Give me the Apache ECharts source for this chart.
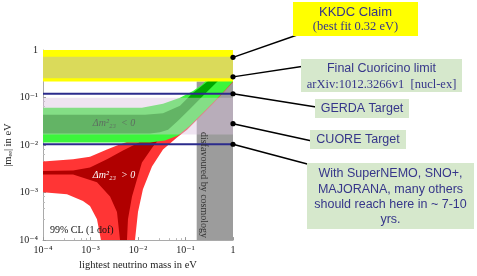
<!DOCTYPE html>
<html><head><meta charset="utf-8">
<script src="https://cdn.jsdelivr.net/npm/echarts@6/dist/echarts.min.js"></script>
<style>html,body{margin:0;padding:0;background:#fff}#c{width:477px;height:276px}</style>
</head><body><div id="c"></div>
<script>
// ---------- data ----------
const tickValues = [1e-4, 1e-3, 1e-2, 1e-1, 1];
const tickLabels = ['10\u207B\u2074', '10\u207B\u00B3', '10\u207B\u00B2', '10\u207B\u00B9', '1'];

// inverted hierarchy (Δm²23 < 0), 99% CL outer band: upper edge then lower edge
const ihOuterUpper = [[1e-4,0.061],[0.0121,0.061],[0.0336,0.074],[0.0766,0.099],[0.144,0.138],[0.222,0.185],[0.258,0.217],[0.3,0.24],[1,0.24]];
const ihOuterLower = [[1,0.217],[0.532,0.109],[0.258,0.0528],[0.124,0.0256],[0.0695,0.0158],[0.037,0.0124],[0.0179,0.0113],[1e-4,0.0113]];
// inverted hierarchy, best-fit band
const ihBestUpper = [[1e-4,0.0435],[0.014,0.0435],[0.0336,0.0467],[0.0766,0.0672],[0.137,0.12],[0.298,0.224],[0.35,0.24],[0.6,0.24]];
const ihBestLower = [[0.483,0.224],[0.258,0.12],[0.124,0.0574],[0.0695,0.0326],[0.043,0.0211],[0.029,0.0186],[0.0179,0.0174],[1e-4,0.0174]];
// normal hierarchy (Δm²23 > 0), outer band
const nhOuterUpper = [[1e-4,0.0045],[4.3e-4,0.005],[9.75e-4,0.0057],[2.22e-3,0.0081],[3.61e-3,0.0098],[7.85e-3,0.013],[0.0207,0.02],[0.0766,0.06],[0.2,0.15],[0.35,0.24],[1,0.24]];
const nhOuterLower = [[1,0.21],[0.379,0.074],[0.175,0.0342],[0.108,0.0211],[0.0662,0.0144],[0.0336,0.0081],[0.0197,0.00355],[0.0127,0.00117],[0.01,0.00039],[0.00865,1e-4],[0.00166,1e-4],[0.00137,0.000275],[9.75e-4,0.00052],[6.95e-4,0.000665],[3.2e-4,0.00092],[1e-4,0.00101]];
// normal hierarchy, best-fit band
const nhBestUpper = [[1e-4,0.00285],[4.3e-4,0.0029],[9.75e-4,0.00338],[2.22e-3,0.005],[4.83e-3,0.0077],[0.0105,0.0113],[0.025,0.025],[0.0408,0.035]];
const nhBestLower = [[0.0408,0.0211],[0.0207,0.0093],[0.0121,0.0043],[0.0095,0.00189],[0.00748,0.00083],[0.00615,0.000275],[0.00586,1e-4],[0.00418,1e-4],[0.00361,0.00039],[0.00258,0.00083],[0.00137,0.00164],[4.3e-4,0.00241],[1e-4,0.00241]];

const kkdcBand = [0.217, 1];          // |m_ee| range
const cuoricinoBand = [0.255, 0.724]; // |m_ee| range
const cuoreBand = [0.0166, 0.0988];   // |m_ee| range
const cosmologyX = [0.172, 1];        // lightest mass range
const targetLines = [0.12, 0.0104];
const pointerValues = [0.70, 0.272, 0.12, 0.0282, 0.0104];

// ---------- layout / style ----------
const pointerAnchors = [[300,34],[305,66],[316,107],[312,141],[311,165]];
const SERIF = "'Liberation Serif','DejaVu Serif',serif";
const SANS = "'Liberation Sans','DejaVu Sans',sans-serif";
const TXT = '#36368a';

function labelFor(v){
  const i = Math.round(Math.log10(v)) + 4;
  return tickLabels[i] !== undefined ? tickLabels[i] : '';
}
function polySeries(name, pts, color, z){
  return {
    type:'custom', name, z, silent:true, data: pts,
    encode:{x:0,y:1},
    renderItem(params, api){
      if (params.dataIndex !== 0) return null;
      const points = pts.map(p => api.coord(p));
      return {type:'polygon', shape:{points}, style:{fill:color}};
    }
  };
}
function rectPts(x0,x1,y0,y1){ return [[x0,y0],[x1,y0],[x1,y1],[x0,y1]]; }

const series = [
  polySeries('cosmology', rectPts(cosmologyX[0], cosmologyX[1], 1e-4, kkdcBand[0]), '#9c9c9c', 1),
  polySeries('nhOuter', nhOuterUpper.concat(nhOuterLower), '#ff3535', 2),
  polySeries('nhBest', nhBestUpper.concat(nhBestLower), '#b00000', 3),
  polySeries('ihOuter', ihOuterUpper.concat(ihOuterLower), '#3cf53c', 4),
  polySeries('ihBest', ihBestUpper.concat(ihBestLower), '#00a800', 5),
  polySeries('cuore', rectPts(1e-4, 1, cuoreBand[0], cuoreBand[1]), 'rgba(219,195,224,0.45)', 6),
  polySeries('kkdc', rectPts(1e-4, 1, kkdcBand[0], kkdcBand[1]), '#ffff00', 7),
  polySeries('cuoricino', rectPts(1e-4, 1, cuoricinoBand[0], cuoricinoBand[1]), '#dada5a', 8)
];
targetLines.forEach((v,i) => series.push({
  type:'line', name:'target'+i, z:9, silent:true, symbol:'none',
  data:[[1e-4, v],[1, v]],
  lineStyle:{color:'#2b2b8c', width:2}
}));
series.push({
  type:'custom', name:'pointers', z:11, silent:true,
  data: pointerValues.map(v => [1, v]),
  encode:{x:0,y:1},
  renderItem(params, api){
    const p = api.coord([api.value(0), api.value(1)]);
    const a = pointerAnchors[params.dataIndex];
    return {type:'group', children:[
      {type:'line', shape:{x1:p[0], y1:p[1], x2:a[0], y2:a[1]}, style:{stroke:'#000', lineWidth:1.5}},
      {type:'circle', shape:{cx:p[0], cy:p[1], r:2.6}, style:{fill:'#000'}}
    ]};
  }
});

function box(x,y,w,h,fill){ return {type:'rect', shape:{x,y,width:w,height:h}, style:{fill}, z:20}; }
function txt(x,y,text,font,size,color,extra){
  return Object.assign({type:'text', x, y, z:21, style:{text, fill:color||TXT, font: size+'px '+font, align:'center', verticalAlign:'middle'}}, extra||{});
}

const graphic = [
  txt(114,123,'\u0394m\u00B2\u2082\u2083  < 0',SERIF,10,'#5d6d60',{style:{text:'\u0394m\u00B2\u2082\u2083  < 0', fill:'#5d6d60', font:'italic 10px '+SERIF, align:'center', verticalAlign:'middle'}}),
  txt(114,175,'\u0394m\u00B2\u2082\u2083  > 0',SERIF,10,'#fff',{style:{text:'\u0394m\u00B2\u2082\u2083  > 0', fill:'#ffffff', font:'italic 10px '+SERIF, align:'center', verticalAlign:'middle'}}),
  {type:'text', x:50, y:230, z:21, style:{text:'99% CL (1 dof)', fill:'#111', font:'10px '+SERIF, align:'left', verticalAlign:'middle'}},
  {type:'text', x:204, y:185, z:21, rotation:-Math.PI/2, style:{text:'disfavoured by cosmology', fill:'#333', font:'10px '+SERIF, align:'center', verticalAlign:'middle'}},

  box(293,2,125,34,'#ffff00'),
  txt(355.5,12,'KKDC Claim',SANS,13),
  txt(355.5,27,'(best fit 0.32 eV)',SERIF,12.5),

  box(301,59,161,33,'#d6e8cc'),
  txt(381.5,68.5,'Final Cuoricino limit',SANS,12.5),
  txt(381.5,84.5,'arXiv:1012.3266v1  [nucl-ex]',SERIF,12.5),

  box(315,99,94,19,'#d6e8cc'),
  txt(362,109,'GERDA Target',SANS,12.5),

  box(310,130,96,19,'#d6e8cc'),
  txt(358,140,'CUORE Target',SANS,12.5),

  box(307,163,167,66,'#d6e8cc'),
  txt(390.5,173.5,'With SuperNEMO, SNO+,',SANS,12.5),
  txt(390.5,189.5,'MAJORANA, many others',SANS,12.5),
  txt(390.5,204.5,'should reach here in ~ 7-10',SANS,12.5),
  txt(390.5,219.5,'yrs.',SANS,12.5)
];

const axisCommon = {
  type:'log', logBase:10, min:1e-4, max:1,
  splitLine:{show:false},
  axisLine:{show:true, lineStyle:{color:'#aaa', width:1}},
  axisTick:{show:true, inside:true, length:3, lineStyle:{color:'#999'}},
  minorTick:{show:true, splitNumber:5, length:2, lineStyle:{color:'#bbb'}},
  axisLabel:{fontFamily:SERIF, fontSize:10, color:'#222', formatter:labelFor},
  nameLocation:'middle',
  nameTextStyle:{fontFamily:SERIF, fontSize:10.5, color:'#222'}
};

const chart = echarts.init(document.getElementById('c'), null, {renderer:'canvas'});
chart.setOption({
  animation:false,
  backgroundColor:'#fff',
  grid:{left:43, top:50, width:190, height:191, containLabel:false},
  xAxis:Object.assign({}, axisCommon, {name:'lightest neutrino mass in eV', nameGap:17, axisLabel:Object.assign({}, axisCommon.axisLabel, {margin:5})}),
  yAxis:Object.assign({}, axisCommon, {name:'|m\u2091\u2091| in eV', nameGap:29, axisLabel:Object.assign({}, axisCommon.axisLabel, {margin:5})}),
  series,
  graphic
});
</script>
</body></html>
